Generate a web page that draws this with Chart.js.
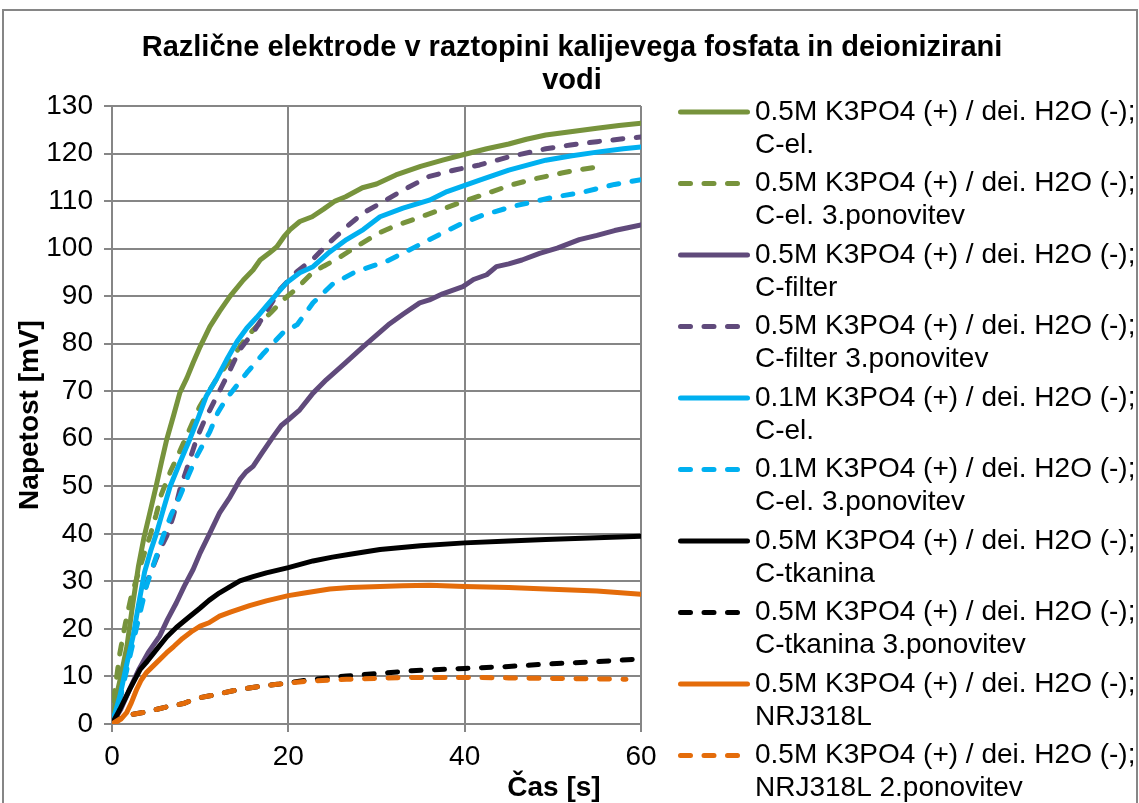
<!DOCTYPE html>
<html>
<head>
<meta charset="utf-8">
<title>Različne elektrode v raztopini kalijevega fosfata in deionizirani vodi</title>
<script src="https://cdn.jsdelivr.net/npm/chart.js@4/dist/chart.umd.min.js"></script>
<style>
  html, body { margin: 0; padding: 0; background: #ffffff; }
  canvas { display: block; }
</style>
</head>
<body>
<canvas id="chart" width="1139" height="803"></canvas>
<script>
// ---- Measured voltage curves: time [s] and voltage [mV] per electrode ----

// 0.5M K3PO4 (+) / dei. H2O (-); C-el.
const tCEl = [0, 0.5, 1, 1.7, 2.3, 3, 3.6, 4.3, 5, 5.6, 6.2, 7, 7.7, 8.5, 9.2, 10, 11.1, 12.2, 13.4, 14.9, 16, 16.8, 17.8, 18.7, 19.5, 20.2, 21.3, 22.7, 24, 25.3, 26.5, 28.4, 30, 32.2, 35, 37.5, 39.7, 42.5, 45, 47, 49.2, 52, 55, 57.5, 60];
const vCEl = [0, 5.9, 10, 16.4, 24.5, 33.2, 39, 44.5, 50, 55, 59.8, 65, 69.7, 72.8, 76, 79.4, 83.6, 86.8, 90, 93.4, 95.5, 97.6, 99, 100.4, 102.5, 104, 105.7, 106.7, 108.3, 110, 110.9, 112.8, 113.6, 115.5, 117.3, 118.6, 119.7, 121, 122, 123, 123.9, 124.6, 125.3, 125.9, 126.4];

// 0.5M K3PO4 (+) / dei. H2O (-); C-el. 3.ponovitev
const tCEl3 = [0, 0.3, 0.9, 1.5, 2.2, 3, 3.6, 4.3, 5, 5.6, 6.6, 7.7, 8.8, 9.95, 11, 12, 13, 14, 15.3, 16.8, 18, 19.4, 21, 22.7, 24, 25.5, 27.7, 30.3, 32, 34, 37, 39.7, 42.5, 45.3, 48, 51, 53, 55.5];
const vCEl3 = [0, 6.7, 15, 21, 27, 31.8, 35.5, 39.5, 44, 48.3, 53, 57.4, 62, 66.8, 70, 73, 75.5, 78, 81.5, 84.4, 86.5, 89.2, 91.7, 94.9, 96.3, 97.8, 100.4, 103.3, 104.7, 106, 108, 109.8, 111.6, 113.4, 114.7, 115.9, 116.6, 117.3];

// 0.5M K3PO4 (+) / dei. H2O (-); C-filter
const tFilter = [0, 1, 2, 3, 4.1, 5.4, 6.3, 7.3, 8.2, 9.2, 10, 11, 12.2, 13.4, 14.5, 15.2, 16, 17, 18.3, 19.2, 20, 21.3, 22.8, 24.3, 26.5, 28.5, 30, 31.5, 33, 34.9, 36, 37.5, 39.8, 41, 42.5, 43.6, 45, 46.5, 48.5, 50.5, 53, 55, 57, 58.5, 60];
const vFilter = [0, 3.1, 7.3, 11.3, 15, 18.5, 22, 25.5, 29, 32.5, 36, 39.8, 44.4, 47.8, 51.4, 53, 54.2, 57, 60.5, 62.8, 64, 66.1, 69.6, 72.4, 76, 79.4, 81.8, 84.2, 86.2, 88.6, 89.2, 90.5, 92, 93.5, 94.5, 96.2, 96.8, 97.6, 99, 100.1, 101.9, 102.8, 103.8, 104.4, 105];

// 0.5M K3PO4 (+) / dei. H2O (-); C-filter 3.ponovitev
const tFilter3 = [0, 1, 2, 3, 4, 5.4, 6.2, 6.95, 7.7, 8.45, 9.6, 10.4, 11.9, 13, 14.5, 16, 17.9, 19, 21, 22.8, 24.5, 26.6, 28.5, 30.4, 33, 36, 39, 41.7, 45, 49.2, 52, 55, 58, 60];
const vFilter3 = [0, 6, 15, 23, 30, 36.6, 39.5, 43.7, 49.3, 53.5, 60, 63.5, 69, 73, 78.8, 82.3, 87.9, 91.3, 95.2, 97.8, 101, 104.6, 107.5, 109.5, 112.3, 115.2, 116.6, 117.6, 119.3, 121, 121.8, 122.5, 123.1, 123.5];

// 0.1M K3PO4 (+) / dei. H2O (-); C-el.
const tCEl01 = [0, 0.9, 1.6, 2.4, 3, 3.7, 4.4, 5.06, 5.8, 6.6, 7.7, 8.8, 9.8, 10.7, 11.8, 13, 14.2, 15.3, 16.4, 17.5, 18.7, 19.8, 21.3, 22.8, 24.5, 26.6, 28.5, 30.4, 33, 36, 38, 41.7, 45, 49.2, 52, 55, 58, 60];
const vCEl01 = [0, 5.9, 12, 18.5, 25, 32, 36.5, 40.2, 45, 50, 55, 59.8, 64.5, 69, 72.4, 76.6, 80.5, 83.3, 85.5, 87.9, 90.5, 92.8, 94.9, 96.2, 99, 101.9, 104, 106.7, 108.5, 110.2, 112, 114.4, 116.5, 118.6, 119.5, 120.3, 121, 121.4];

// 0.1M K3PO4 (+) / dei. H2O (-); C-el. 3.ponovitev
const tCEl01r3 = [0, 1, 2, 3, 3.9, 4.7, 5.8, 6.7, 7.7, 8.6, 9.6, 11.1, 12, 13, 14.2, 15.3, 17.2, 19.4, 21, 22.8, 25, 27.7, 29.5, 31.1, 33.5, 36, 39.8, 42, 45.5, 50, 53, 57, 60];
const vCEl01r3 = [0, 6, 14, 22, 29, 33.5, 39.5, 44, 47.9, 52, 56.3, 61.5, 65.5, 68.5, 71.3, 73.9, 78, 82.3, 84, 88.6, 92.5, 95.2, 96.3, 97.3, 99.5, 101.9, 105.4, 107, 108.9, 110.8, 111.7, 113.5, 114.5];

// 0.5M K3PO4 (+) / dei. H2O (-); C-tkanina
const tCloth = [0, 0.9, 2, 3.2, 4, 5.06, 6.2, 7.3, 8.6, 10, 11, 12.2, 13.3, 14.5, 16, 17.5, 20, 22.8, 25, 27, 30.4, 35, 40, 45, 49.2, 55, 60];
const vCloth = [0, 3.1, 7.3, 11.5, 13.2, 15.7, 18.3, 20.3, 22.3, 24.4, 26, 27.6, 28.8, 30.1, 31, 31.8, 32.9, 34.3, 35.1, 35.7, 36.7, 37.5, 38.1, 38.5, 38.8, 39.2, 39.5];

// 0.5M K3PO4 (+) / dei. H2O (-); C-tkanina 3.ponovitev
const tCloth3 = [0, 1, 2, 4, 6.2, 8.1, 9.6, 11.5, 14, 17, 19, 22, 26.6, 30, 34, 40, 45, 49.2, 55, 60];
const vCloth3 = [0, 1.2, 1.9, 2.6, 3.6, 4.3, 5.4, 6.1, 7.1, 8, 8.4, 9.2, 10.1, 10.6, 11.2, 11.7, 12.1, 12.6, 13.1, 13.7];

// 0.5M K3PO4 (+) / dei. H2O (-); NRJ318L
const tSteel = [0, 0.5, 1, 1.66, 2.2, 2.8, 3.3, 3.9, 5, 6.2, 7, 8, 9, 10, 11, 12.2, 13.5, 15.6, 17.5, 20, 22, 24.7, 27, 30.4, 33, 36, 40, 45, 49.2, 55, 60];
const vSteel = [0, 0.4, 1, 2.4, 4.5, 7.3, 9.2, 10.8, 12.8, 15, 16.3, 18, 19.4, 20.6, 21.3, 22.7, 23.6, 24.9, 25.9, 27, 27.6, 28.4, 28.7, 28.9, 29.1, 29.2, 28.9, 28.7, 28.4, 28, 27.3];

// 0.5M K3PO4 (+) / dei. H2O (-); NRJ318L 2.ponovitev
const tSteel2 = [0, 1, 2, 4, 6.2, 8.1, 9.6, 11.5, 14, 17, 19, 22, 26.6, 30, 34, 40, 45, 49.2, 55, 58.3];
const vSteel2 = [0, 1.2, 1.9, 2.6, 3.6, 4.3, 5.4, 6.1, 7.1, 8, 8.4, 9, 9.4, 9.6, 9.8, 9.8, 9.7, 9.6, 9.5, 9.4];

// Legend labels (two lines each)
const seriesLabels = [
  ['0.5M K3PO4 (+) / dei. H2O (-);', 'C-el.'],
  ['0.5M K3PO4 (+) / dei. H2O (-);', 'C-el. 3.ponovitev'],
  ['0.5M K3PO4 (+) / dei. H2O (-);', 'C-filter'],
  ['0.5M K3PO4 (+) / dei. H2O (-);', 'C-filter 3.ponovitev'],
  ['0.1M K3PO4 (+) / dei. H2O (-);', 'C-el.'],
  ['0.1M K3PO4 (+) / dei. H2O (-);', 'C-el. 3.ponovitev'],
  ['0.5M K3PO4 (+) / dei. H2O (-);', 'C-tkanina'],
  ['0.5M K3PO4 (+) / dei. H2O (-);', 'C-tkanina 3.ponovitev'],
  ['0.5M K3PO4 (+) / dei. H2O (-);', 'NRJ318L'],
  ['0.5M K3PO4 (+) / dei. H2O (-);', 'NRJ318L 2.ponovitev']
];
const seriesTimes = [tCEl, tCEl3, tFilter, tFilter3, tCEl01, tCEl01r3, tCloth, tCloth3, tSteel, tSteel2];
const seriesValues = [vCEl, vCEl3, vFilter, vFilter3, vCEl01, vCEl01r3, vCloth, vCloth3, vSteel, vSteel2];

const titleLines = ['Različne elektrode v raztopini kalijevega fosfata in deionizirani', 'vodi'];
const xAxisTitle = 'Čas [s]';
const yAxisTitle = 'Napetost [mV]';

// ---- Styling ----
const FONT = '"Liberation Sans", Arial, Helvetica, sans-serif';
const GRID = '#868686';
const seriesColors = ['#77933C', '#77933C', '#604A7B', '#604A7B', '#00B0F0', '#00B0F0', '#000000', '#000000', '#E46C0A', '#E46C0A'];
const seriesDashed = [false, true, false, true, false, true, false, true, false, true];
const DASH = [10, 13.5];
const LINE_W = 5;

Chart.defaults.font.family = FONT;
Chart.defaults.color = '#000000';

const datasets = seriesValues.map((vals, i) => ({
  label: seriesLabels[i].join(' '),
  data: vals.map((v, k) => ({ x: seriesTimes[i][k], y: v })),
  borderColor: seriesColors[i],
  backgroundColor: seriesColors[i],
  borderWidth: LINE_W,
  borderDash: seriesDashed[i] ? DASH : [],
  borderCapStyle: 'round',
  borderJoinStyle: 'round',
  pointRadius: 0,
  fill: false,
  tension: 0,
  // later series are painted over earlier ones
  order: seriesValues.length - i
}));

// Chart frame, title, time-axis title and legend
const decorations = {
  id: 'decorations',
  afterDraw(chart) {
    const ctx = chart.ctx;
    ctx.save();

    // outer frame
    ctx.strokeStyle = GRID;
    ctx.lineWidth = 2;
    ctx.setLineDash([]);
    ctx.strokeRect(3, 10, 1134, 810);

    ctx.fillStyle = '#000000';
    ctx.textBaseline = 'middle';

    // chart title
    ctx.textAlign = 'center';
    ctx.font = 'bold 29px ' + FONT;
    titleLines.forEach((line, i) => ctx.fillText(line, 572, 47.5 + i * 33));

    // time axis title
    ctx.font = 'bold 28px ' + FONT;
    ctx.fillText(xAxisTitle, 554, 788);

    // legend
    ctx.textAlign = 'left';
    ctx.font = '28px ' + FONT;
    chart.data.datasets.forEach((ds, i) => {
      const y = 112 + i * 71.5;
      ctx.strokeStyle = ds.borderColor;
      ctx.lineWidth = LINE_W;
      ctx.lineCap = 'round';
      ctx.setLineDash(ds.borderDash);
      ctx.beginPath();
      ctx.moveTo(680.5, y);
      ctx.lineTo(ds.borderDash.length ? 738 : 747.5, y);
      ctx.stroke();
      ctx.setLineDash([]);
      seriesLabels[i].forEach((line, k) => ctx.fillText(line, 755, y + k * 33));
    });
    ctx.restore();
  }
};

const gridOpts = { color: GRID, lineWidth: 2, tickLength: 8, drawTicks: true };
const borderOpts = { color: GRID, width: 2 };

new Chart(document.getElementById('chart'), {
  type: 'line',
  data: { datasets },
  options: {
    responsive: false,
    animation: false,
    devicePixelRatio: 1,
    parsing: true,
    layout: { padding: { left: 0, top: 106, right: 498, bottom: 0 } },
    plugins: {
      legend: { display: false },
      title: { display: false },
      tooltip: { enabled: false }
    },
    scales: {
      x: {
        type: 'linear',
        min: 0,
        max: 60,
        ticks: { stepSize: 20, font: { size: 28 }, padding: 8, maxRotation: 0, color: '#000000' },
        grid: gridOpts,
        border: borderOpts,
        afterFit(scale) { scale.height = 79; }
      },
      y: {
        type: 'linear',
        min: 0,
        max: 130,
        ticks: { stepSize: 10, font: { size: 28 }, padding: 11, color: '#000000' },
        grid: gridOpts,
        border: borderOpts,
        title: {
          display: true,
          text: yAxisTitle,
          font: { size: 28, weight: 'bold' },
          color: '#000000',
          padding: { top: 13, bottom: 0 }
        },
        afterFit(scale) { scale.width = 112; }
      }
    }
  },
  plugins: [decorations]
});
</script>
</body>
</html>
